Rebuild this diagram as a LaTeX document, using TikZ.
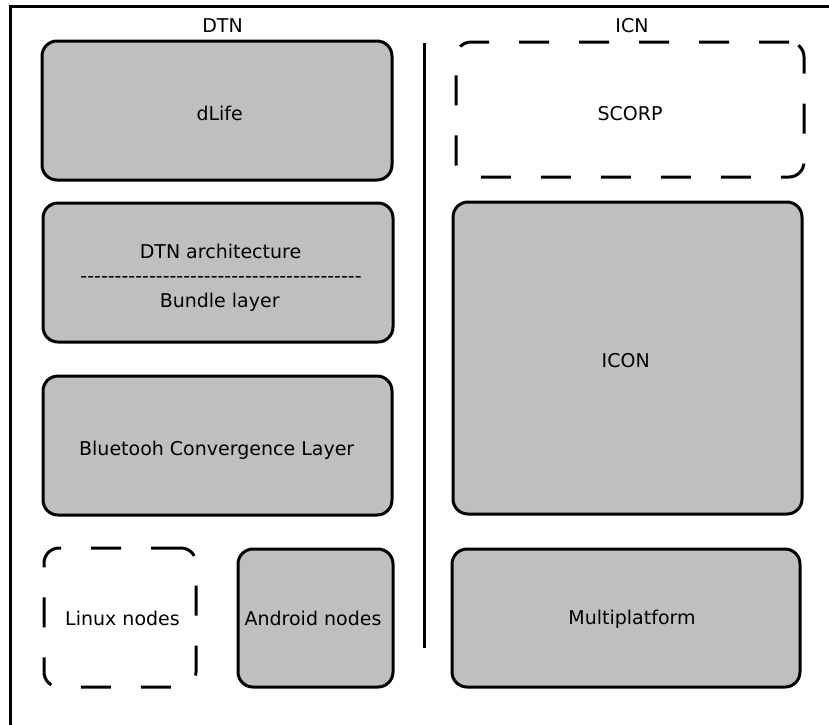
\documentclass[tikz,border=0pt]{standalone}
\usepackage{fontspec}
\setmainfont{DejaVu Sans}
% a row of plain hyphens, kept apart so they are not joined into dashes
\newcommand{\hyphenrow}{-{}-{}-{}-{}-{}-{}-{}-{}-{}-{}-{}-{}-{}-{}-{}-{}-{}-{}-{}-{}-{}-{}-{}-{}-{}-{}-{}-{}-{}-{}-{}-{}-{}-{}-{}-{}-{}-{}-{}-{}-}
\begin{document}
\begin{tikzpicture}[x=1pt,y=-1pt,
  every node/.style={inner sep=0pt,outer sep=0pt},
  panel/.style={draw=black,line width=3pt,rounded corners=15pt,rectangle},
  greybox/.style={panel,fill=boxgrey},
  openbox/.style={panel,fill=none,dash pattern=on 30pt off 30pt},
  lbl/.style={anchor=base,font=\fontsize{19}{23}\selectfont},
  frame/.style={line width=3pt}]
\definecolor{boxgrey}{RGB}{191,191,191}
\useasboundingbox (0,0) rectangle (829,724);

% outer frame (only the top and left edges fall inside the page)
\coordinate (fbl) at (10,740);
\coordinate (ftl) at (10,6);
\coordinate (ftr) at (845,6);
\draw[frame] (fbl) -- (ftl) -- (ftr);

% column headings
\node[lbl] (dtn) at (222.5,32) {DTN};
\node[lbl] (icn) at (632,32) {ICN};

% divider between the two columns
\coordinate (divtop) at (424,43);
\coordinate (divbot) at (424,648);
\draw[frame] (divtop) -- (divbot);

% DTN stack
\node[greybox,minimum width=350pt,minimum height=139pt] (dlife) at (217,110.5) {};
\node[lbl] (dlifet) at (219.7,120) {dLife};

\node[greybox,minimum width=350pt,minimum height=139pt] (arch) at (218,272.5) {};
\node[lbl] (archt) at (220.5,258) {DTN architecture};
\node[lbl] (archsep) at (221,282) {\hyphenrow};
\node[lbl] (bundlet) at (219.7,307) {Bundle layer};

\node[greybox,minimum width=349pt,minimum height=139pt] (bcl) at (217.5,445.5) {};
\node[lbl] (bclt) at (216.7,455) {Bluetooh Convergence Layer};

\node[openbox,minimum width=152pt,minimum height=139pt] (linux) at (120,617.5) {};
\node[lbl] (linuxt) at (122.5,625) {Linux nodes};

\node[greybox,minimum width=155pt,minimum height=138pt] (android) at (315.5,618) {};
\node[lbl] (androidt) at (313,625) {Android nodes};

% ICN stack
\node[openbox,minimum width=348pt,minimum height=135pt] (scorp) at (630,109.5) {};
\node[lbl] (scorpt) at (630,120) {SCORP};

\node[greybox,minimum width=349pt,minimum height=312pt] (icon) at (627.5,358) {};
\node[lbl] (icont) at (625.7,367.3) {ICON};

\node[greybox,minimum width=348pt,minimum height=138pt] (multi) at (626,618) {};
\node[lbl] (multit) at (632,624) {Multiplatform};
\end{tikzpicture}
\end{document}
